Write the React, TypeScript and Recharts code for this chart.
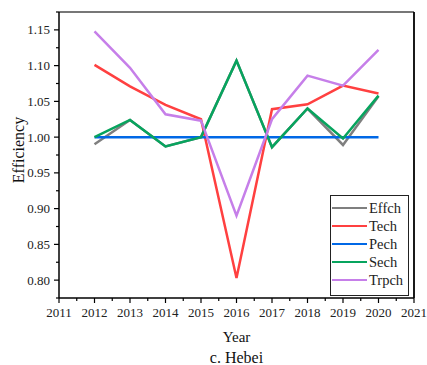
import React from "react";
import { LineChart, Line, XAxis, YAxis, ReferenceLine, Legend, Label } from "recharts";

const YEARS = [2012, 2013, 2014, 2015, 2016, 2017, 2018, 2019, 2020];
const EFFCH = [0.99, 1.024, 0.987, 1.0, 1.107, 0.986, 1.04, 0.989, 1.057];
const TECH = [1.101, 1.071, 1.045, 1.025, 0.803, 1.039, 1.046, 1.072, 1.061];
const PECH = [1.0, 1.0, 1.0, 1.0, 1.0, 1.0, 1.0, 1.0, 1.0];
const SECH = [1.0, 1.024, 0.987, 1.0, 1.107, 0.986, 1.04, 0.998, 1.058];
const TRPCH = [1.148, 1.097, 1.032, 1.023, 0.89, 1.025, 1.086, 1.072, 1.122];

const Y_MAJOR = [0.8, 0.85, 0.9, 0.95, 1.0, 1.05, 1.1, 1.15];
const Y_MINOR = [0.775, 0.825, 0.875, 0.925, 0.975, 1.025, 1.075, 1.125, 1.175];
const X_MAJOR = [2011, 2012, 2013, 2014, 2015, 2016, 2017, 2018, 2019, 2020, 2021];
const X_MINOR = [2011.5, 2012.5, 2013.5, 2014.5, 2015.5, 2016.5, 2017.5, 2018.5, 2019.5, 2020.5];

const SERIES = [
  { key: "Effch", values: EFFCH, color: "#7f7f7f" },
  { key: "Tech", values: TECH, color: "#ff4040" },
  { key: "Pech", values: PECH, color: "#0068e6" },
  { key: "Sech", values: SECH, color: "#07a45e" },
  { key: "Trpch", values: TRPCH, color: "#c67fe9" },
];

const data = YEARS.map((year, i) => {
  const row: Record<string, number> = { year };
  SERIES.forEach((s) => (row[s.key] = s.values[i]));
  return row;
});

const FONT = '"Liberation Serif", "Times New Roman", serif';
const isIn = (list: number[], v: number) => list.some((m) => Math.abs(m - v) < 1e-6);

const YTick = (props: any) => {
  const { x, y, payload } = props;
  const major = isIn(Y_MAJOR, payload.value);
  return (
    <g>
      <line x1={x - (major ? 5 : 3)} x2={x} y1={y} y2={y} stroke="#000" strokeWidth={1.2} />
      {major && (
        <text x={x - 9} y={y} dy="0.35em" textAnchor="end" fontSize={13} fontFamily={FONT} fill="#222">
          {payload.value.toFixed(2)}
        </text>
      )}
    </g>
  );
};

const XTick = (props: any) => {
  const { x, y, payload } = props;
  const major = isIn(X_MAJOR, payload.value);
  return (
    <g>
      <line x1={x} x2={x} y1={y} y2={y + (major ? 5 : 3)} stroke="#000" strokeWidth={1.2} />
      {major && (
        <text x={x} y={y + 19} textAnchor="middle" fontSize={13} fontFamily={FONT} fill="#222">
          {payload.value}
        </text>
      )}
    </g>
  );
};

const LegendBox = () => (
  <div
    style={{
      boxSizing: "border-box",
      width: 79,
      height: 101,
      border: "1.5px solid #222",
      background: "#fff",
      padding: "3px 0 0 1px",
      fontFamily: FONT,
      fontSize: 14.5,
      color: "#222",
    }}
  >
    {SERIES.map((s) => (
      <div key={s.key} style={{ display: "flex", alignItems: "center", height: 18 }}>
        <span style={{ display: "inline-block", width: 35, height: 2, background: s.color, marginRight: 2 }} />
        <span>{s.key}</span>
      </div>
    ))}
  </div>
);

export default function App() {
  return (
    <div style={{ position: "absolute", left: 0, top: 0, background: "#fff" }}>
      <LineChart width={427} height={365} data={data} margin={{ top: 12, right: 13, left: 9, bottom: 37 }}>
        <XAxis
          type="number"
          dataKey="year"
          domain={[2011, 2021]}
          ticks={[...X_MAJOR, ...X_MINOR].sort((a, b) => a - b)}
          interval={0}
          tickSize={0}
          tickMargin={0}
          tickLine={false}
          tick={<XTick />}
          height={30}
          axisLine={{ stroke: "#000", strokeWidth: 1.5 }}
        >
          <Label
            content={({ viewBox }: any) => (
              <g>
                <text x={viewBox.x + viewBox.width / 2} y={viewBox.y + 43.5} textAnchor="middle" fontSize={15} fontFamily={FONT} fill="#111">
                  Year
                </text>
                <text x={viewBox.x + viewBox.width / 2} y={viewBox.y + 65} textAnchor="middle" fontSize={16} fontFamily={FONT} fill="#111">
                  c. Hebei
                </text>
              </g>
            )}
          />
        </XAxis>
        <YAxis
          type="number"
          domain={[0.775, 1.175]}
          ticks={[...Y_MAJOR, ...Y_MINOR].sort((a, b) => a - b)}
          interval={0}
          allowDataOverflow
          tickSize={0}
          tickMargin={0}
          tickLine={false}
          tick={<YTick />}
          width={50}
          axisLine={{ stroke: "#000", strokeWidth: 1.5 }}
        >
          <Label
            content={({ viewBox }: any) => {
              const cx = viewBox.x + 15;
              const cy = viewBox.y + viewBox.height / 2 - 5;
              return (
                <text x={cx} y={cy} transform={`rotate(-90, ${cx}, ${cy})`} textAnchor="middle" fontSize={16} fontFamily={FONT} fill="#111">
                  Efficiency
                </text>
              );
            }}
          />
        </YAxis>
        <ReferenceLine y={1.175} stroke="#777" strokeWidth={2} />
        <ReferenceLine x={2021} stroke="#000" strokeWidth={1.8} />
        {SERIES.map((s) => (
          <Line
            key={s.key}
            type="linear"
            dataKey={s.key}
            stroke={s.color}
            strokeWidth={2.5}
            dot={false}
            activeDot={false}
            isAnimationActive={false}
          />
        ))}
        <Legend
          layout="vertical"
          align="center"
          verticalAlign="middle"
          content={<LegendBox />}
          wrapperStyle={{ left: 330, top: 195, width: 79, height: 101 }}
        />
      </LineChart>
    </div>
  );
}
